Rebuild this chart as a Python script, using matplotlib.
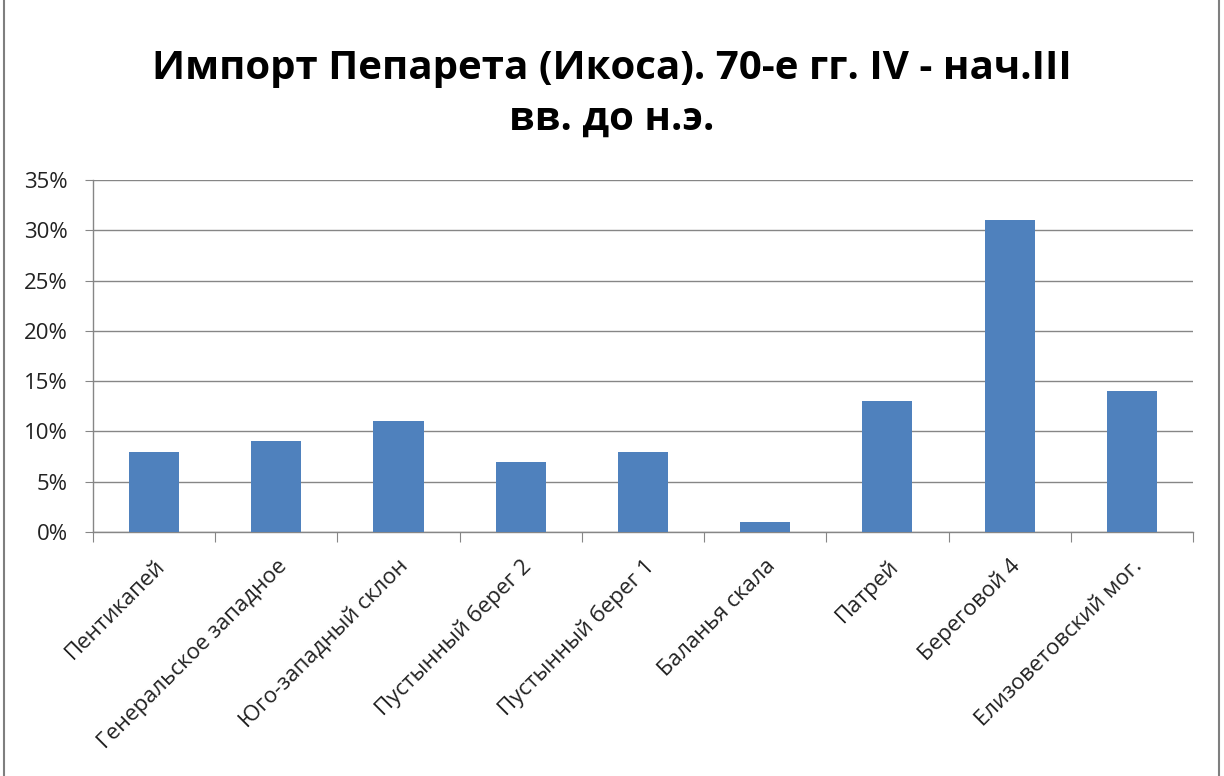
import matplotlib
matplotlib.use("Agg")
import matplotlib.pyplot as plt
from matplotlib.ticker import FuncFormatter, MultipleLocator
from matplotlib.patches import Rectangle

categories = ["Пентикапей", "Генеральское западное", "Юго-западный склон",
              "Пустынный берег 2", "Пустынный берег 1", "Баланья скала",
              "Патрей", "Береговой 4", "Елизоветовский мог."]
values = [0.08, 0.09, 0.11, 0.07, 0.08, 0.01, 0.13, 0.31, 0.14]
title_text = "Импорт Пепарета (Икоса). 70-е гг. IV - нач.III\nвв. до н.э."

plt.rcParams['font.family'] = ['Open Sans', 'DejaVu Sans']

fig = plt.figure(figsize=(12.24, 7.76), dpi=100)
ax = fig.add_axes([93/1224, 1-532/776, 1100/1224, 352/776])

x = list(range(len(categories)))
ax.bar(x, values, width=0.41, color='#4F81BD', zorder=3)
ax.set_xlim(-0.5, len(categories) - 0.5)
ax.set_ylim(0, 0.35)
ax.yaxis.set_major_locator(MultipleLocator(0.05))
ax.yaxis.set_major_formatter(FuncFormatter(lambda v, p: f"{round(v*100)}%"))
ax.grid(axis='y', color='#868686', linewidth=1, zorder=0)

for s in ['top', 'right']:
    ax.spines[s].set_visible(False)
for s in ['left', 'bottom']:
    ax.spines[s].set_color('#868686')
    ax.spines[s].set_linewidth(1)

ax.tick_params(axis='y', length=6, color='#868686', labelsize=16, pad=12, labelcolor='#222222')
ax.set_xticks([i - 0.5 for i in range(len(categories) + 1)], minor=False)
ax.set_xticklabels([])
ax.tick_params(axis='x', which='major', length=7, color='#868686')
ax.set_xticks(x, minor=True)
ax.set_xticklabels(categories, minor=True, rotation=45, ha='right', va='top',
                   rotation_mode='anchor', fontsize=16, color='#222222')
ax.tick_params(axis='x', which='minor', length=0, pad=17)

fig.text(0.5, 1-94/776, title_text, ha='center', va='center', fontsize=29,
         fontweight='bold', linespacing=1.4, color='black')

fig.patches.append(Rectangle((4/1224, -0.05), 1215/1224, 1.1, transform=fig.transFigure,
                             fill=False, edgecolor='#7f7f7f', linewidth=1.5))

fig.savefig("out.png", dpi=100)
